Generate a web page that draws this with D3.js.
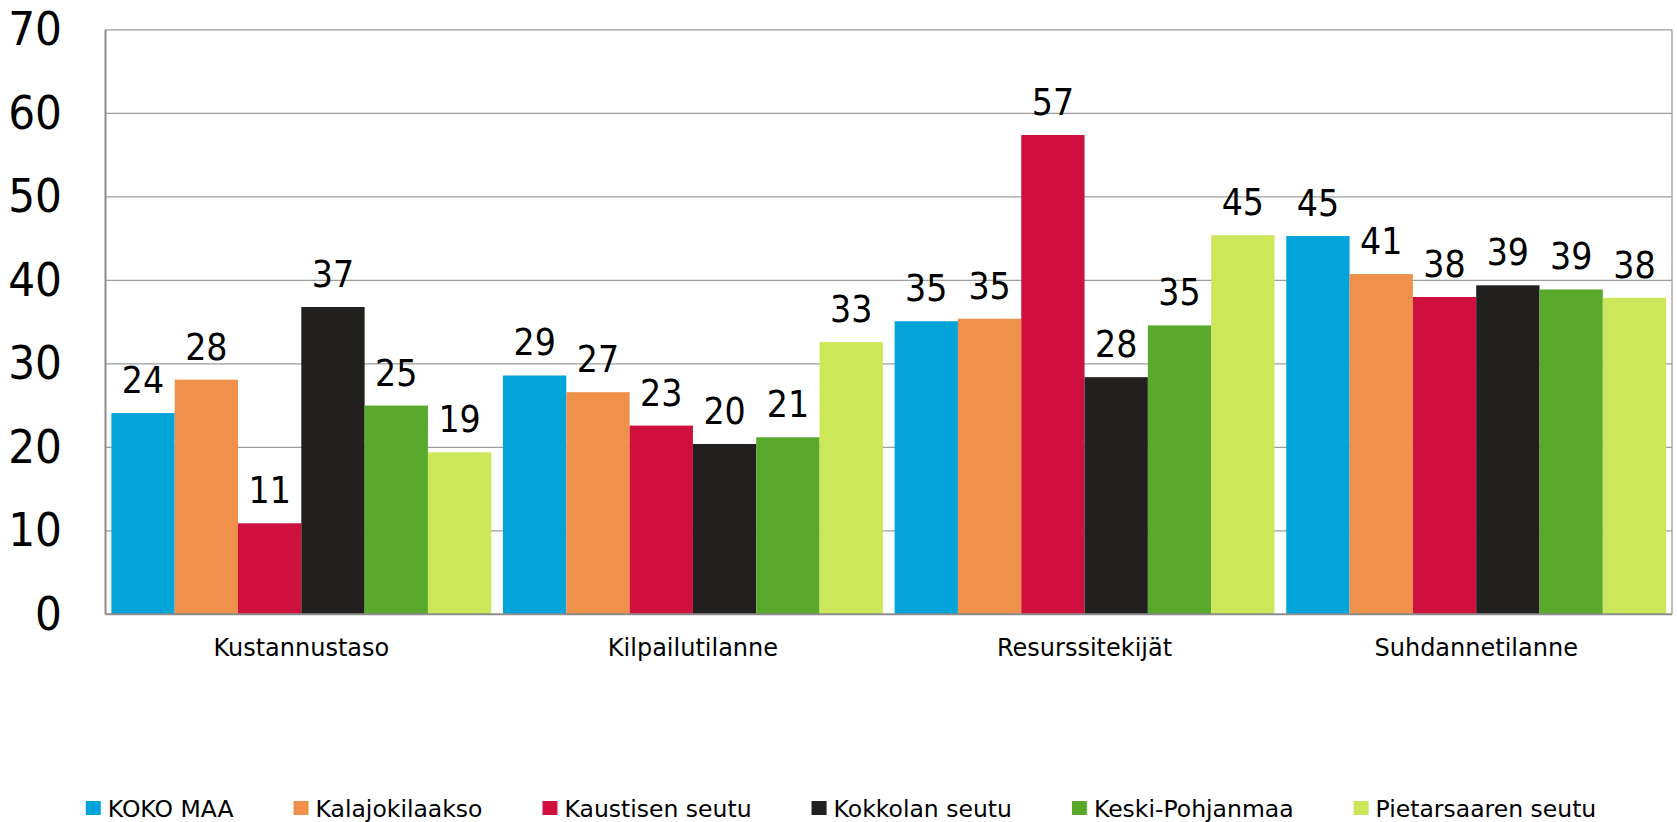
<!DOCTYPE html>
<html>
<head>
<meta charset="utf-8">
<script src="https://cdn.jsdelivr.net/npm/d3@7"></script>
<style>
  body { margin: 0; background: #fff; }
  svg { display: block; }
</style>
</head>
<body>
<div id="chart"></div>
<script>
// Data
const categories = ["Kustannustaso", "Kilpailutilanne", "Resurssitekijät", "Suhdannetilanne"];
const seriesNames = ["KOKO MAA", "Kalajokilaakso", "Kaustisen seutu", "Kokkolan seutu", "Keski-Pohjanmaa", "Pietarsaaren seutu"];
const kokoMaa      = [24.1, 28.6, 35.1, 45.3];
const kalajoki     = [28.1, 26.6, 35.4, 40.75];
const kaustinen    = [10.9, 22.6, 57.4, 38.0];
const kokkola      = [36.8, 20.4, 28.4, 39.4];
const keskiPohj    = [25.0, 21.2, 34.6, 38.9];
const pietarsaari  = [19.4, 32.6, 45.4, 37.9];
const yTicks = [0, 10, 20, 30, 40, 50, 60, 70];
const colors = ["#02a4da", "#f0914b", "#cf103e", "#22201f", "#59a92d", "#cce75a"];

const seriesValues = [kokoMaa, kalajoki, kaustinen, kokkola, keskiPohj, pietarsaari];

const W = 1677, H = 822;
const plot = {left: 105.5, right: 1672, top: 29.8, bottom: 614.3};

const svg = d3.select("#chart").append("svg").attr("width", W).attr("height", H);

const x0 = d3.scaleBand().domain(categories).range([plot.left, plot.right]).paddingInner(0.03).paddingOuter(0.015);
const x1 = d3.scaleBand().domain(d3.range(seriesNames.length)).range([0, x0.bandwidth()]);
const y = d3.scaleLinear().domain([0, 70]).range([plot.bottom, plot.top]);

// gridlines
svg.append("g").selectAll("line").data(yTicks.filter(d => d > 0)).join("line")
    .attr("x1", plot.left).attr("x2", plot.right)
    .attr("y1", d => y(d)).attr("y2", d => y(d))
    .attr("stroke", "#9d9d9d").attr("stroke-width", 1.3);

// right border
svg.append("line").attr("x1", plot.right).attr("x2", plot.right).attr("y1", plot.top).attr("y2", plot.bottom)
    .attr("stroke", "#9d9d9d").attr("stroke-width", 1.3);

// y tick labels
svg.append("g").selectAll("text").data(yTicks).join("text")
    .attr("x", 62).attr("y", d => y(d)).attr("dy", "0.33em")
    .attr("text-anchor", "end")
    .attr("font-family", "'DejaVu Sans Condensed', 'DejaVu Sans', sans-serif")
    .attr("font-size", 47).attr("fill", "#000")
    .text(d => d);

// bars
const groups = svg.append("g").selectAll("g").data(categories).join("g")
    .attr("transform", d => `translate(${x0(d)},0)`);

groups.selectAll("rect").data((c, ci) => seriesValues.map((s, si) => ({si, v: s[ci]}))).join("rect")
    .attr("x", d => x1(d.si)).attr("width", x1.bandwidth())
    .attr("y", d => y(d.v)).attr("height", d => y(0) - y(d.v))
    .attr("fill", d => colors[d.si]);

groups.selectAll("text").data((c, ci) => seriesValues.map((s, si) => ({si, v: s[ci]}))).join("text")
    .attr("x", d => x1(d.si) + x1.bandwidth() / 2)
    .attr("y", d => y(d.v) - 20)
    .attr("text-anchor", "middle")
    .attr("font-family", "'DejaVu Sans Condensed', 'DejaVu Sans', sans-serif")
    .attr("font-size", 37).attr("fill", "#000")
    .text(d => Math.round(d.v));

// axes lines
svg.append("line").attr("x1", plot.left).attr("x2", plot.left).attr("y1", plot.top).attr("y2", plot.bottom)
    .attr("stroke", "#8c8c8c").attr("stroke-width", 2);
svg.append("line").attr("x1", plot.left).attr("x2", plot.right).attr("y1", plot.bottom).attr("y2", plot.bottom)
    .attr("stroke", "#8c8c8c").attr("stroke-width", 2);

// category labels
svg.append("g").selectAll("text").data(categories).join("text")
    .attr("x", d => x0(d) + x0.bandwidth() / 2).attr("y", 656)
    .attr("text-anchor", "middle")
    .attr("font-family", "'DejaVu Sans', sans-serif")
    .attr("font-size", 24).attr("fill", "#000")
    .text(d => d);

// legend
const legend = svg.append("g");
let lx = 0;
seriesNames.forEach((name, i) => {
    const item = legend.append("g").attr("transform", `translate(${lx},0)`);
    item.append("rect").attr("x", 0).attr("y", 801).attr("width", 15).attr("height", 14).attr("fill", colors[i]);
    const t = item.append("text").attr("x", 22).attr("y", 816.5)
        .attr("font-family", "'DejaVu Sans', sans-serif")
        .attr("font-size", 23.5).attr("fill", "#000").text(name);
    lx += 22 + t.node().getComputedTextLength() + 60;
});
const legendWidth = lx - 60;
legend.attr("transform", `translate(${841 - legendWidth / 2},0)`);
</script>
</body>
</html>
